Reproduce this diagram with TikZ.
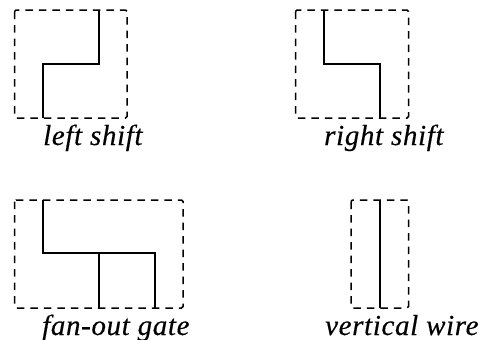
\documentclass[tikz,border=0pt]{standalone}
\usepackage{fontspec}
\setmainfont{Liberation Serif}[LetterSpace=2.2,ItalicFeatures={FakeBold=0.35}]
\tikzset{
  gatebox/.style={draw=black,line width=1.5pt,dash pattern=on 7.5pt off 6pt,rounded corners=1.5pt},
  wire/.style={draw=black,line width=2.5pt,line cap=butt,line join=miter},
  caption/.style={inner sep=0pt,anchor=base west,font=\fontsize{29}{32}\selectfont\itshape}
}
\begin{document}
\begin{tikzpicture}[x=1pt,y=-1pt]
\useasboundingbox (0,0) rectangle (485,340);
% left shift
\draw[gatebox] (14.5,10) rectangle (127,118);
\coordinate (ls1) at (99,10); \coordinate (ls2) at (43,118);
\draw[wire] (ls1) -- (99,64) -- (43,64) -- (ls2);
\node[caption] (lsl) at (43,145) {left shift};
% right shift
\draw[gatebox] (295.5,10) rectangle (408.5,118);
\coordinate (rs1) at (324,10); \coordinate (rs2) at (380,118);
\draw[wire] (rs1) -- (324,64) -- (380,64) -- (rs2);
\node[caption] (rsl) at (324,145) {right shift};
% fan-out
\draw[gatebox] (14.5,200) rectangle (183,308);
\coordinate (fo1) at (43,200); \coordinate (fo2) at (155,308); \coordinate (fo3) at (99,308); \coordinate (foj) at (99,253);
\draw[wire] (fo1) -- (43,253) -- (155,253) -- (fo2);
\draw[wire] (foj) -- (fo3);
\node[caption] (fol) at (42,335) {fan-out gate};
% vertical
\draw[gatebox] (351,200) rectangle (408.5,308);
\coordinate (vw1) at (380,200); \coordinate (vw2) at (380,308);
\draw[wire] (vw1) -- (vw2);
\node[caption] (vwl) at (325,335) {vertical wire};
\end{tikzpicture}
\end{document}
